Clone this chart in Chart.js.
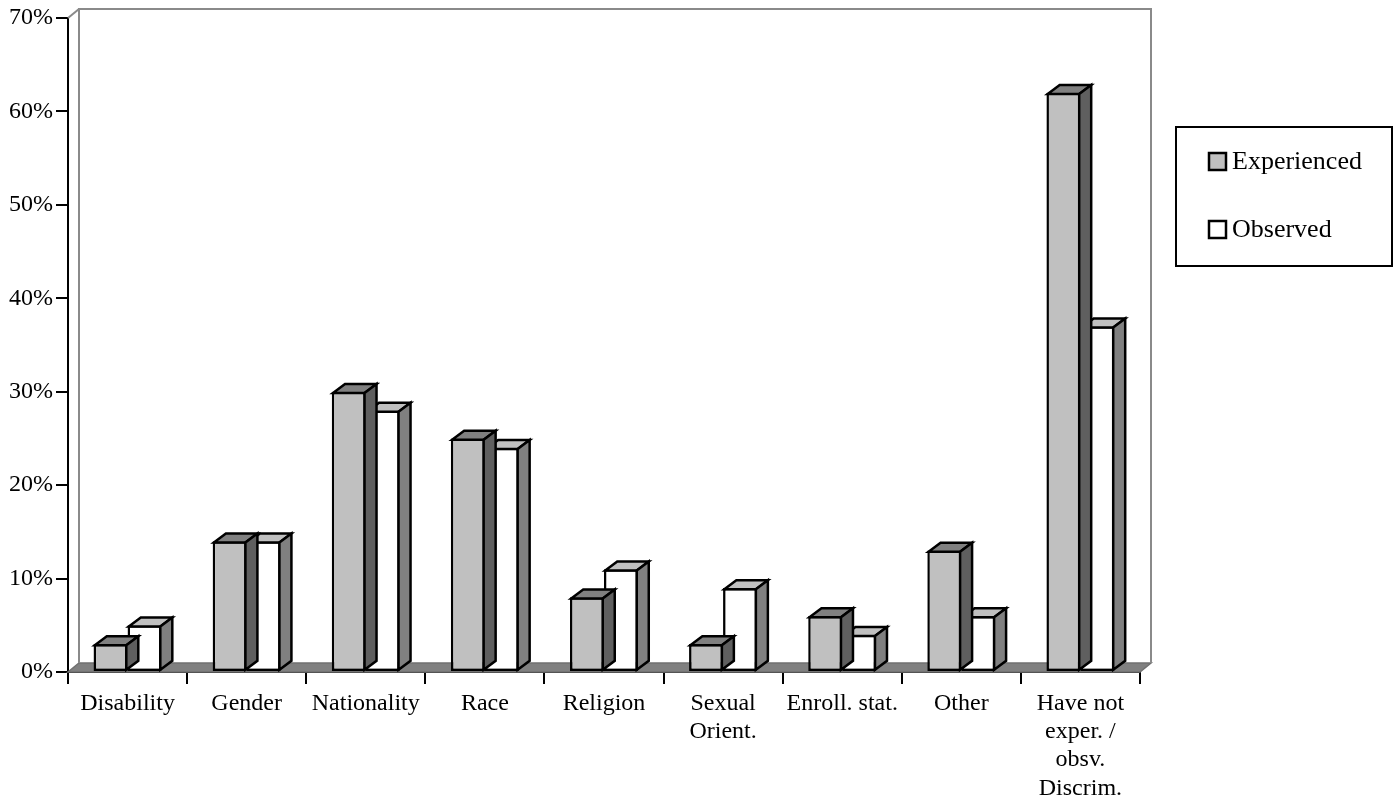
<!DOCTYPE html>
<html>
<head>
<meta charset="utf-8">
<title>Discrimination experienced and observed</title>
<script src="https://cdn.jsdelivr.net/npm/chart.js@4/dist/chart.umd.min.js"></script>
<style>
  html, body { margin: 0; padding: 0; background: #ffffff; }
  #wrap { width: 1398px; height: 806px; }
</style>
</head>
<body>
<div id="wrap"><canvas id="chart" width="1398" height="806"></canvas></div>
<script>
// Categories (multi-line labels are arrays)
const categories = [
  'Disability',
  'Gender',
  'Nationality',
  'Race',
  'Religion',
  ['Sexual', 'Orient.'],
  'Enroll. stat.',
  'Other',
  ['Have not', 'exper. /', 'obsv.', 'Discrim.']
];

// Percent of respondents
const experienced = [3, 14, 30, 25, 8, 3, 6, 13, 62];
const observed    = [5, 14, 28, 24, 11, 9, 4, 6, 37];

// Y axis tick range (percent)
const yMin = 0;
const yMax = 70;
const yStep = 10;

// Depth of the pseudo-3D extrusion, in pixels
const DEPTH_X = 12;
const DEPTH_Y = 9;
const WALL_DX = 11;

const FONT = '"Liberation Serif", "Times New Roman", serif';
const EDGE = 2.5;

// Face shades for each series: front, top, side
const shades = [
  { front: '#c0c0c0', top: '#808080', side: '#5f5f5f' },
  { front: '#ffffff', top: '#c0c0c0', side: '#808080' }
];

// Back wall and floor behind the bars
const wallPlugin = {
  id: 'wall3d',
  beforeDatasetsDraw(chart) {
    const { ctx, chartArea: a } = chart;
    ctx.save();
    // floor slab
    ctx.beginPath();
    ctx.moveTo(a.left, a.bottom);
    ctx.lineTo(a.right, a.bottom);
    ctx.lineTo(a.right + WALL_DX, a.bottom - DEPTH_Y);
    ctx.lineTo(a.left + WALL_DX, a.bottom - DEPTH_Y);
    ctx.closePath();
    ctx.fillStyle = '#808080';
    ctx.fill();
    ctx.strokeStyle = '#707070';
    ctx.lineWidth = 1.5;
    ctx.stroke();
    // back wall outline
    ctx.strokeStyle = '#8a8a8a';
    ctx.lineWidth = 2;
    ctx.beginPath();
    ctx.moveTo(a.left + WALL_DX, a.bottom - DEPTH_Y);
    ctx.lineTo(a.left + WALL_DX, a.top - DEPTH_Y);
    ctx.lineTo(a.right + WALL_DX, a.top - DEPTH_Y);
    ctx.lineTo(a.right + WALL_DX, a.bottom - DEPTH_Y);
    ctx.stroke();
    // side wall top edge
    ctx.beginPath();
    ctx.moveTo(a.left, a.top);
    ctx.lineTo(a.left + WALL_DX, a.top - DEPTH_Y);
    ctx.stroke();
    ctx.restore();
  }
};

// Top and side faces of each bar
const barDepthPlugin = {
  id: 'bar3d',
  afterDatasetDraw(chart, args) {
    const { ctx } = chart;
    const meta = chart.getDatasetMeta(args.index);
    const shade = shades[args.index];
    const h = EDGE / 2;
    ctx.save();
    ctx.lineWidth = EDGE;
    ctx.lineJoin = 'miter';
    ctx.strokeStyle = '#000000';
    meta.data.forEach(bar => {
      const p = bar.getProps(['x', 'y', 'base', 'width'], true);
      const L = p.x - p.width / 2 + h;
      const R = p.x + p.width / 2 - h;
      const T = p.y + h;
      const B = p.base - h;
      // top face
      ctx.beginPath();
      ctx.moveTo(L, T);
      ctx.lineTo(R, T);
      ctx.lineTo(R + DEPTH_X, T - DEPTH_Y);
      ctx.lineTo(L + DEPTH_X, T - DEPTH_Y);
      ctx.closePath();
      ctx.fillStyle = shade.top;
      ctx.fill();
      ctx.stroke();
      // side face
      ctx.beginPath();
      ctx.moveTo(R, T);
      ctx.lineTo(R + DEPTH_X, T - DEPTH_Y);
      ctx.lineTo(R + DEPTH_X, B - DEPTH_Y);
      ctx.lineTo(R, B);
      ctx.closePath();
      ctx.fillStyle = shade.side;
      ctx.fill();
      ctx.stroke();
    });
    ctx.restore();
  }
};

// Boxed legend at the right of the plot
const boxLegendPlugin = {
  id: 'boxLegend',
  afterDraw(chart) {
    const { ctx, chartArea: a } = chart;
    const left = a.right + 36;
    const top = 127;
    const w = 216;
    const h = 139;
    ctx.save();
    ctx.strokeStyle = '#000000';
    ctx.lineWidth = 2;
    ctx.strokeRect(left, top, w, h);
    ctx.font = '26px ' + FONT;
    ctx.textBaseline = 'middle';
    ctx.textAlign = 'left';
    ctx.lineWidth = 2.5;
    chart.data.datasets.forEach((ds, i) => {
      const cy = top + 34 + i * 68;
      ctx.fillStyle = ds.backgroundColor;
      ctx.fillRect(left + 33, cy - 8, 17, 17);
      ctx.strokeRect(left + 33, cy - 8, 17, 17);
      ctx.fillStyle = '#000000';
      ctx.fillText(ds.label, left + 56, cy + 1);
    });
    ctx.restore();
  }
};

new Chart(document.getElementById('chart'), {
  type: 'bar',
  data: {
    labels: categories,
    datasets: [
      {
        label: 'Experienced',
        data: experienced,
        backgroundColor: shades[0].front,
        borderColor: '#000000',
        borderWidth: EDGE,
        borderSkipped: false
      },
      {
        label: 'Observed',
        data: observed,
        backgroundColor: shades[1].front,
        borderColor: '#000000',
        borderWidth: EDGE,
        borderSkipped: false
      }
    ]
  },
  options: {
    responsive: false,
    animation: false,
    devicePixelRatio: 1,
    barPercentage: 1.0,
    categoryPercentage: 0.571,
    layout: { padding: { top: 18, right: 258, left: 0, bottom: 0 } },
    plugins: {
      legend: { display: false },
      tooltip: { enabled: false }
    },
    scales: {
      x: {
        grid: {
          display: true,
          offset: true,
          drawOnChartArea: false,
          drawTicks: true,
          tickLength: 12,
          color: '#000000',
          lineWidth: 2
        },
        border: { display: true, color: '#000000', width: 2 },
        ticks: {
          color: '#000000',
          font: { family: FONT, size: 24, lineHeight: 1.17 },
          maxRotation: 0,
          minRotation: 0,
          autoSkip: false,
          padding: 6
        },
        afterFit(scale) { scale.height = 134; }
      },
      y: {
        min: yMin,
        max: yMax,
        grid: {
          display: true,
          drawOnChartArea: false,
          drawTicks: true,
          tickLength: 12,
          color: '#000000',
          lineWidth: 2
        },
        border: { display: true, color: '#000000', width: 2 },
        ticks: {
          stepSize: yStep,
          color: '#000000',
          font: { family: FONT, size: 24 },
          padding: 3,
          callback: v => v + '%'
        },
        afterFit(scale) { scale.width = 68; }
      }
    }
  },
  plugins: [wallPlugin, barDepthPlugin, boxLegendPlugin]
});
</script>
</body>
</html>
